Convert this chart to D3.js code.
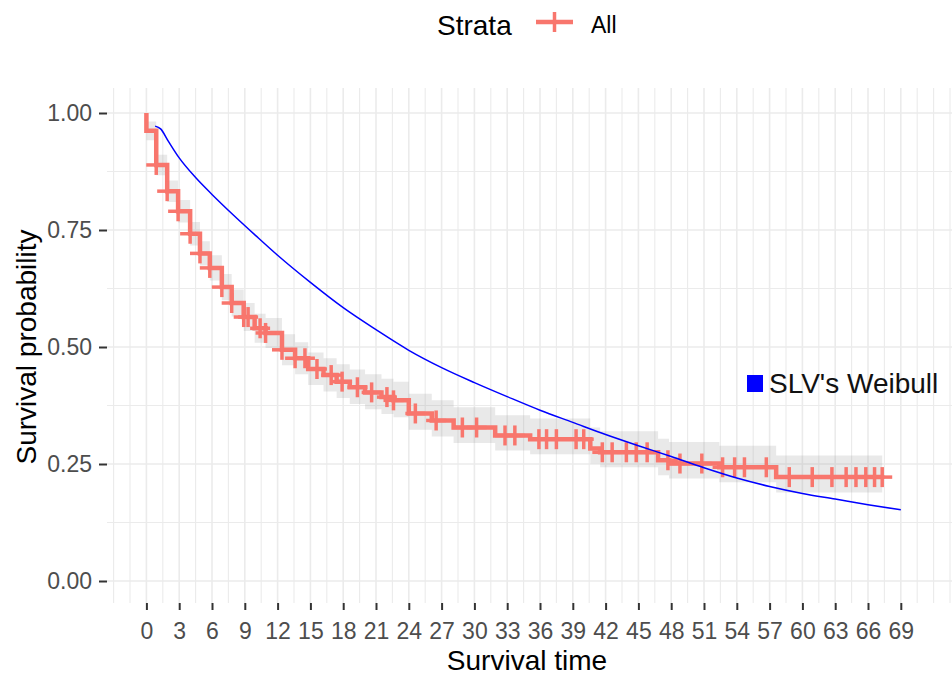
<!DOCTYPE html>
<html>
<head>
<meta charset="utf-8">
<script src="https://cdn.jsdelivr.net/npm/d3@7"></script>
<style>
  html, body { margin: 0; padding: 0; background: #fff; }
  svg { display: block; font-family: "Liberation Sans", Arial, sans-serif; }
</style>
</head>
<body>
<svg id="chart" width="952" height="677"></svg>
<script>
// Kaplan-Meier estimate (step times and survival after each step)
const kmTime  = [0, 0, 0.9, 1.9, 2.9, 4.0, 4.9, 5.8, 6.9, 7.8, 8.9, 9.9, 10.9, 12.4, 13.6, 14.8, 16.2, 17.4, 18.6, 20.0, 21.5, 22.6, 24.0, 26.1, 28.1, 31.9, 35.1, 40.6, 41.5, 46.8, 47.8, 52.4, 57.6, 67.3];
const kmSurv  = [1.0, 0.962, 0.889, 0.833, 0.790, 0.742, 0.700, 0.669, 0.628, 0.594, 0.564, 0.540, 0.530, 0.494, 0.476, 0.453, 0.440, 0.426, 0.414, 0.403, 0.393, 0.386, 0.358, 0.343, 0.328, 0.311, 0.303, 0.283, 0.275, 0.258, 0.251, 0.243, 0.222, 0.222];
const kmUpper = [1.0, 0.982, 0.911, 0.856, 0.814, 0.767, 0.726, 0.696, 0.656, 0.623, 0.594, 0.571, 0.562, 0.527, 0.510, 0.488, 0.476, 0.463, 0.452, 0.442, 0.432, 0.426, 0.400, 0.386, 0.371, 0.354, 0.347, 0.328, 0.320, 0.304, 0.297, 0.289, 0.268, 0.268];
const kmLower = [1.0, 0.942, 0.867, 0.810, 0.766, 0.717, 0.674, 0.642, 0.600, 0.565, 0.534, 0.509, 0.498, 0.461, 0.442, 0.419, 0.405, 0.391, 0.378, 0.367, 0.357, 0.350, 0.323, 0.309, 0.295, 0.279, 0.271, 0.251, 0.243, 0.226, 0.219, 0.211, 0.189, 0.189];

// Censoring times (drawn as "+" on the curve)
const censorTime = [0.9, 1.9, 2.9, 4.0, 4.9, 5.8, 6.9, 7.8, 8.9, 9.3, 10.4, 10.9, 12.4, 13.6, 14.5, 15.6, 16.9, 17.9, 19.3, 20.6, 22.0, 22.6, 24.6, 26.5, 28.9, 30.2, 32.8, 33.7, 35.9, 36.6, 37.5, 39.3, 40.0, 41.7, 42.6, 43.9, 44.8, 45.8, 47.7, 48.8, 50.8, 52.7, 53.8, 54.7, 56.7, 58.8, 60.9, 62.7, 64.0, 64.9, 65.8, 66.6, 67.3];

// SLV's Weibull survival curve
const weibullTime = [0.8, 1.3, 2, 3, 4.5, 6, 8, 10, 12, 15, 18, 21, 24, 27, 30, 33, 36, 39, 42, 45, 48, 51, 54, 57, 60, 63, 66, 69];
const weibullSurv = [0.972, 0.966, 0.940, 0.904, 0.862, 0.826, 0.781, 0.738, 0.696, 0.638, 0.584, 0.537, 0.493, 0.456, 0.424, 0.394, 0.365, 0.339, 0.313, 0.289, 0.266, 0.242, 0.220, 0.202, 0.187, 0.175, 0.163, 0.152];

// Axis breaks
const xTicks = d3.range(0, 70, 3);
const yTicks = [0, 0.25, 0.5, 0.75, 1];
const yTickLabels = ["0.00", "0.25", "0.50", "0.75", "1.00"];

const strataName = "All";
const kmColor = "#F8766D";
const weibullColor = "#0000FF";

const svg = d3.select("#chart");
const panel = { left: 107, right: 952, top: 88, bottom: 603 };

const x = d3.scaleLinear().domain([0, 69]).range([146.4, 900.8]);
const y = d3.scaleLinear().domain([0, 1]).range([581, 113]);

svg.append("defs").append("clipPath").attr("id", "panelClip")
  .append("rect")
  .attr("x", panel.left).attr("y", panel.top)
  .attr("width", panel.right - panel.left).attr("height", panel.bottom - panel.top);

// Grid: major + minor lines (minor at half-break spacing)
const grid = svg.append("g").attr("clip-path", "url(#panelClip)");
const xGrid = d3.range(-3, 75, 1.5);
grid.selectAll("line.vg").data(xGrid).join("line")
  .attr("x1", d => x(d)).attr("x2", d => x(d))
  .attr("y1", panel.top).attr("y2", panel.bottom)
  .attr("stroke", "#EBEBEB")
  .attr("stroke-width", d => (d >= 0 && d <= 69 && d % 3 === 0) ? 1.6 : 1.1);
const yGrid = d3.range(0, 1.0001, 0.125);
grid.selectAll("line.hg").data(yGrid).join("line")
  .attr("x1", panel.left).attr("x2", panel.right)
  .attr("y1", d => y(d)).attr("y2", d => y(d))
  .attr("stroke", "#EBEBEB")
  .attr("stroke-width", d => (Math.abs(d * 4 - Math.round(d * 4)) < 1e-6) ? 1.6 : 1.1);

// Data layer
const plot = svg.append("g").attr("clip-path", "url(#panelClip)");
const km = kmTime.map((t, i) => ({ t, s: kmSurv[i], u: kmUpper[i], l: kmLower[i] }));

plot.append("path")
  .datum(km)
  .attr("fill", "#9a9a9a")
  .attr("fill-opacity", 0.22)
  .attr("d", d3.area().curve(d3.curveStepAfter)
    .x(d => x(d.t)).y0(d => y(d.l)).y1(d => y(d.u)));

plot.append("path")
  .datum(km)
  .attr("fill", "none")
  .attr("stroke", kmColor)
  .attr("stroke-width", 4.5)
  .attr("d", d3.line().curve(d3.curveStepAfter).x(d => x(d.t)).y(d => y(d.s)));

// survival value of the step function at time t
function survAt(t) {
  const i = d3.bisectRight(kmTime, t + 1e-9) - 1;
  return kmSurv[Math.max(0, i)];
}

const crossHalf = 10;
const censors = plot.append("g")
  .attr("stroke", kmColor).attr("stroke-width", 3.5);
censorTime.forEach(t => {
  const cx = x(t), cy = y(survAt(t));
  censors.append("line").attr("x1", cx - crossHalf).attr("x2", cx + crossHalf).attr("y1", cy).attr("y2", cy);
  censors.append("line").attr("x1", cx).attr("x2", cx).attr("y1", cy - crossHalf).attr("y2", cy + crossHalf);
});

plot.append("path")
  .datum(weibullTime.map((t, i) => [t, weibullSurv[i]]))
  .attr("fill", "none")
  .attr("stroke", weibullColor)
  .attr("stroke-width", 1.5)
  .attr("d", d3.line().curve(d3.curveMonotoneX).x(d => x(d[0])).y(d => y(d[1])));

// Axes
const xAxis = svg.append("g")
  .attr("transform", `translate(0,${panel.bottom})`)
  .call(d3.axisBottom(x).tickValues(xTicks).tickSize(7).tickPadding(13).tickFormat(d3.format("d")));
const yAxis = svg.append("g")
  .attr("transform", `translate(${panel.left},0)`)
  .call(d3.axisLeft(y).tickValues(yTicks).tickSize(8).tickPadding(7)
    .tickFormat((d, i) => yTickLabels[i]));

[xAxis, yAxis].forEach(a => {
  a.select(".domain").remove();
  a.selectAll(".tick line").attr("stroke", "#333").attr("stroke-width", 2);
  a.selectAll(".tick text")
    .attr("fill", "#4D4D4D")
    .style("font-size", "23px")
    .style("font-family", "'Liberation Sans', Arial, sans-serif");
});

// Axis titles
svg.append("text")
  .attr("x", 527).attr("y", 670)
  .attr("text-anchor", "middle")
  .style("font-size", "28px")
  .attr("fill", "#000")
  .text("Survival time");

svg.append("text")
  .attr("transform", "translate(36,347) rotate(-90)")
  .attr("text-anchor", "middle")
  .style("font-size", "28px")
  .attr("fill", "#000")
  .text("Survival probability");

// Legend (top)
const legend = svg.append("g");
legend.append("text")
  .attr("x", 437).attr("y", 35)
  .style("font-size", "28px")
  .attr("fill", "#000")
  .text("Strata");
legend.append("line")
  .attr("x1", 536).attr("x2", 573).attr("y1", 22).attr("y2", 22)
  .attr("stroke", kmColor).attr("stroke-width", 4.5);
legend.append("line")
  .attr("x1", 554.5).attr("x2", 554.5).attr("y1", 12).attr("y2", 32)
  .attr("stroke", kmColor).attr("stroke-width", 3.5);
legend.append("text")
  .attr("x", 591).attr("y", 33)
  .style("font-size", "23px")
  .attr("fill", "#000")
  .text(strataName);

// Weibull annotation
svg.append("rect")
  .attr("x", 747).attr("y", 375).attr("width", 16).attr("height", 17)
  .attr("fill", weibullColor);
svg.append("text")
  .attr("x", 769).attr("y", 393)
  .style("font-size", "28px")
  .attr("fill", "#111")
  .text("SLV's Weibull");
</script>
</body>
</html>
